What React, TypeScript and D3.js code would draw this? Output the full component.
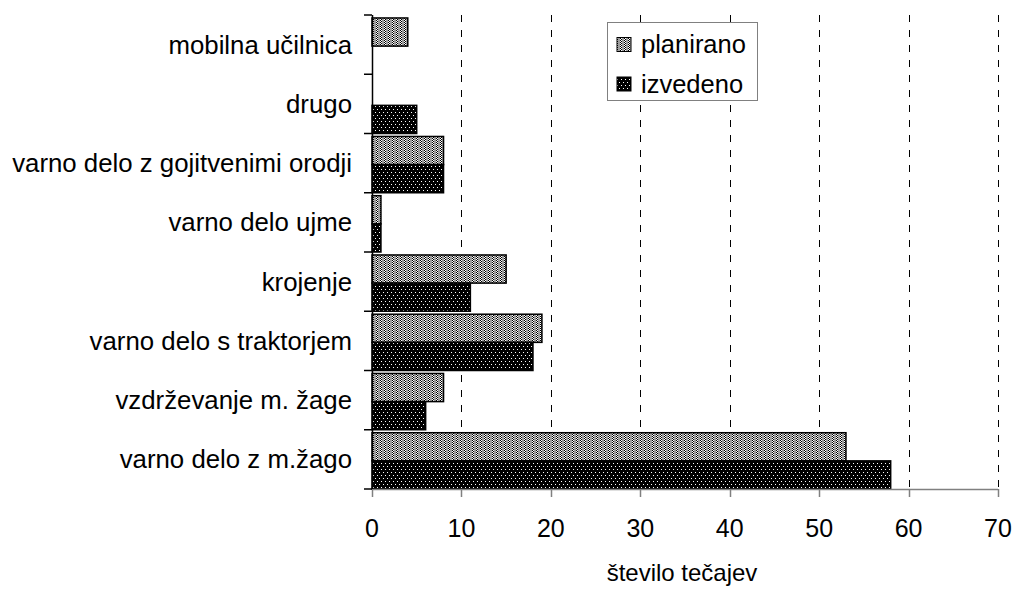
import React from "react";
import * as d3 from "d3";

const categories = [
  "mobilna učilnica",
  "drugo",
  "varno delo z gojitvenimi orodji",
  "varno delo ujme",
  "krojenje",
  "varno delo s traktorjem",
  "vzdrževanje m. žage",
  "varno delo z m.žago",
];
const seriesNames = ["planirano", "izvedeno"];
const planirano = [4, 0, 8, 1, 15, 19, 8, 53];
const izvedeno = [0, 5, 8, 1, 11, 18, 6, 58];
const xTicks = [0, 10, 20, 30, 40, 50, 60, 70];
const xTitle = "število tečajev";

const W = 1015;
const H = 590;
const left = 372;
const right = 998;
const top = 15;
const bottom = 489;
const FONT = "'Liberation Sans', Arial, sans-serif";

export default function App() {
  const x = d3.scaleLinear().domain([0, 70]).range([left, right]);
  const y = d3.scaleBand<string>().domain(categories).range([top, bottom]).padding(0);
  const bw = y.bandwidth();
  const ys = d3
    .scaleBand<string>()
    .domain(seriesNames)
    .range([bw * 0.05, bw])
    .padding(0);
  const bh = ys.bandwidth();
  const values = [planirano, izvedeno];
  const fills = ["url(#patPlan)", "url(#patIzv)"];

  return (
    <svg
      width={W}
      height={H}
      style={{ position: "absolute", left: 0, top: 0, background: "#fff" }}
      fontFamily={FONT}
    >
      <defs>
        <pattern id="patPlan" width={4} height={2} patternUnits="userSpaceOnUse">
          <rect width={4} height={2} fill="#9c9c9c" />
          <rect x={0} y={0} width={1} height={1} fill="#000" />
          <rect x={1} y={0} width={1} height={1} fill="#fff" />
          <rect x={0} y={1} width={1} height={1} fill="#fff" />
          <rect x={1} y={1} width={1} height={1} fill="#000" />
        </pattern>
        <pattern id="patIzv" width={4} height={6} patternUnits="userSpaceOnUse">
          <rect width={4} height={6} fill="#000" />
          <rect x={1} y={1} width={1} height={1} fill="#fff" />
          <rect x={3} y={4} width={1} height={1} fill="#fff" />
        </pattern>
      </defs>

      {/* gridlines */}
      {xTicks.slice(1).map((t) => (
        <line
          key={"g" + t}
          x1={Math.round(x(t)) + 0.5}
          x2={Math.round(x(t)) + 0.5}
          y1={top}
          y2={bottom}
          stroke="#000"
          strokeWidth={1}
          strokeDasharray="7,8"
        />
      ))}

      {/* bars */}
      {categories.map((c, i) =>
        seriesNames.map((s, j) => {
          const v = values[j][i];
          if (!v) return null;
          const by = (y(c) as number) + (ys(s) as number);
          return (
            <rect
              key={c + s}
              x={x(0)}
              y={by}
              width={x(v) - x(0)}
              height={bh}
              fill={fills[j]}
              stroke="#000"
              strokeWidth={1.5}
            />
          );
        })
      )}

      {/* x axis */}
      <line x1={left} x2={right} y1={bottom + 0.5} y2={bottom + 0.5} stroke="#808080" strokeWidth={1.5} />
      {xTicks.map((t) => (
        <g key={"t" + t}>
          <line
            x1={Math.round(x(t)) + 0.5}
            x2={Math.round(x(t)) + 0.5}
            y1={bottom}
            y2={bottom + 8}
            stroke="#808080"
            strokeWidth={1.5}
          />
          <text x={x(t)} y={537} fontSize={25} textAnchor="middle" fill="#000">
            {t}
          </text>
        </g>
      ))}
      <text x={(left + right) / 2 - 3} y={581} fontSize={24} textAnchor="middle" fill="#000">
        {xTitle}
      </text>

      {/* y axis */}
      <line x1={left + 0.5} x2={left + 0.5} y1={top} y2={bottom} stroke="#000" strokeWidth={1.5} />
      {[...categories.map((c) => y(c) as number), bottom].map((yy, i) => (
        <line key={"yt" + i} x1={left - 8} x2={left} y1={yy} y2={yy} stroke="#000" strokeWidth={1.5} />
      ))}
      {categories.map((c) => (
        <text
          key={"l" + c}
          x={352}
          y={(y(c) as number) + bw / 2 + 9}
          fontSize={25.8}
          textAnchor="end"
          fill="#000"
        >
          {c}
        </text>
      ))}

      {/* legend */}
      <rect x={607.5} y={22.5} width={150} height={78} fill="#fff" stroke="#808080" strokeWidth={1} />
      {seriesNames.map((s, j) => (
        <g key={"lg" + s}>
          <rect
            x={617}
            y={37.5 + j * 39.5}
            width={14}
            height={14}
            fill={fills[j]}
            stroke="#000"
            strokeWidth={1}
          />
          <text x={641} y={53 + j * 40} fontSize={25.5} fill="#000">
            {s}
          </text>
        </g>
      ))}
    </svg>
  );
}
